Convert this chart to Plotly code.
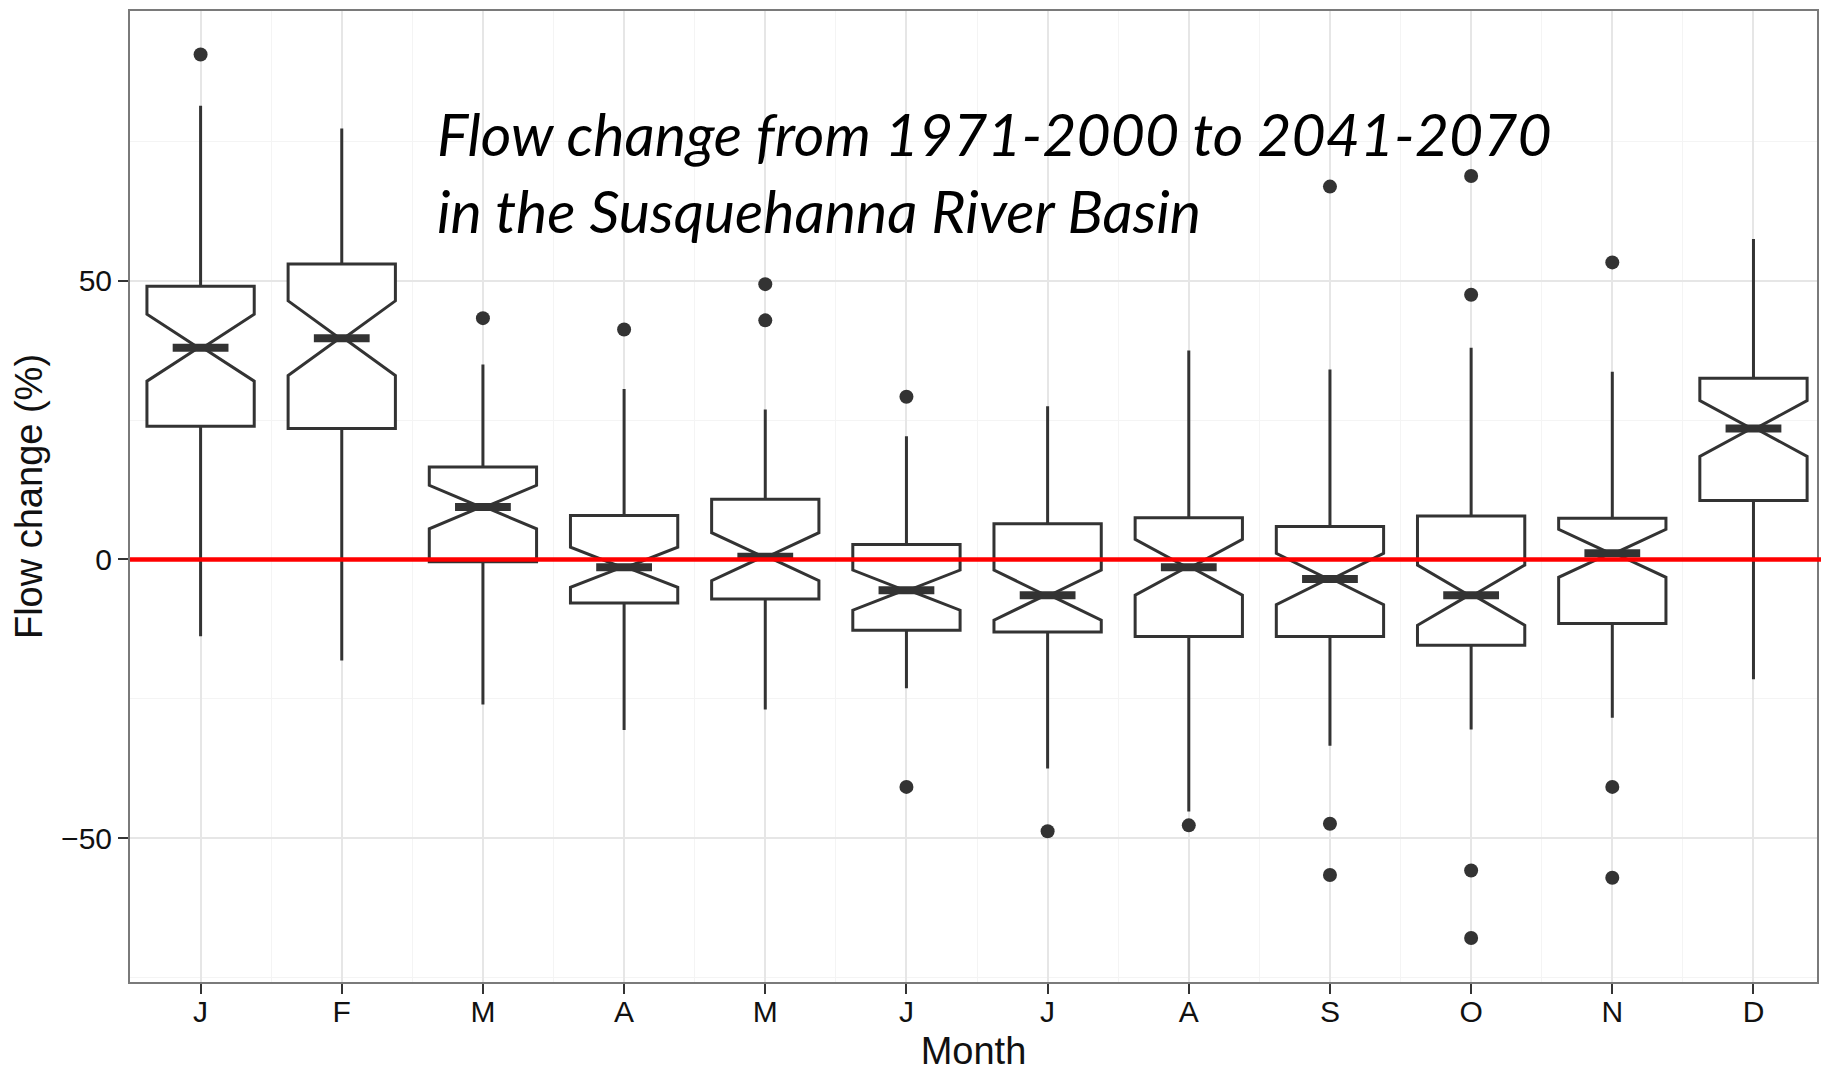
import plotly.graph_objects as go

# monthly flow change stats
months = ['J', 'F', 'M', 'A', 'M', 'J', 'J', 'A', 'S', 'O', 'N', 'D']
q1 = [23.9, 23.5, -0.4, -7.8, -7.1, -12.7, -13.0, -13.8, -13.8, -15.4, -11.5, 10.6]
median = [38.0, 39.7, 9.4, -1.4, 0.5, -5.5, -6.4, -1.4, -3.5, -6.4, 1.1, 23.5]
q3 = [49.0, 53.0, 16.6, 7.9, 10.8, 2.7, 6.4, 7.5, 5.9, 7.8, 7.4, 32.5]
notch = [6.0, 6.7, 3.9, 3.6, 4.3, 3.6, 4.5, 5.0, 4.6, 5.4, 4.3, 5.0]
lower = [-13.75, -18.1, -26.0, -30.6, -26.9, -23.1, -37.5, -45.2, -33.4, -30.5, -28.4, -21.5]
upper = [81.4, 77.3, 35.0, 30.6, 26.9, 22.1, 27.5, 37.5, 34.1, 38.0, 33.7, 57.5]
outliers = [[90.6], [], [43.3], [41.25], [49.4, 42.9], [29.2, -40.8], [-48.75],
            [-47.7], [66.9, -47.4, -56.6], [68.8, 47.5, -55.8, -67.9],
            [53.3, -40.8, -57.1], []]

title_lines = ['Flow change from 1971-2000 to 2041-2070', 'in the Susquehanna River Basin']

pos = list(range(len(months)))
box_w = 0.76
notch_w = 0.48
dark = '#333333'

fig = go.Figure()
fig.add_trace(go.Box(
    x=pos, q1=q1, median=median, q3=q3,
    lowerfence=lower, upperfence=upper, notchspan=notch,
    notched=True, notchwidth=notch_w, width=box_w,
    fillcolor='white', line=dict(color=dark, width=3),
    whiskerwidth=0, boxpoints=False, showlegend=False,
))

# thick median bars like ggplot
half = box_w / 2 * (1 - notch_w)
mx, my = [], []
for i, m in zip(pos, median):
    mx += [i - half, i + half, None]
    my += [m, m, None]
fig.add_trace(go.Scatter(x=mx, y=my, mode='lines',
                         line=dict(color=dark, width=8), showlegend=False))

ox, oy = [], []
for i, vals in zip(pos, outliers):
    for v in vals:
        ox.append(i)
        oy.append(v)
fig.add_trace(go.Scatter(x=ox, y=oy, mode='markers',
                         marker=dict(color=dark, size=14), showlegend=False))

fig.add_shape(type='line', xref='paper', yref='y', x0=0, x1=1.003, y0=0, y1=0,
              line=dict(color='#ff0000', width=4.5), layer='above')

fig.add_annotation(text='<br>'.join(title_lines), xref='paper', yref='paper',
                   x=0.181, y=0.912, xanchor='left', yanchor='top', align='left',
                   showarrow=False,
                   font=dict(family='Lato', size=59, color='black', style='italic'))

axis_font = dict(family='Liberation Sans', size=30, color='#111111')
title_font = dict(family='Liberation Sans', size=38, color='#111111')
fig.update_xaxes(
    range=[-0.5, 11.45], tickvals=pos, ticktext=months,
    tickfont=axis_font, ticks='outside', ticklen=10, tickwidth=2, tickcolor=dark,
    ticklabelstandoff=-8,
    showgrid=True, gridcolor='#e6e6e6', gridwidth=1.5,
    minor=dict(tickvals=[p + 0.5 for p in pos[:-1]], showgrid=True,
               gridcolor='#f4f4f4', gridwidth=1, ticks=''),
    showline=True, mirror=True, linecolor='#7a7a7a', linewidth=2,
    zeroline=False,
    title=dict(text='Month', font=title_font, standoff=16),
)
fig.update_yaxes(
    range=[-75.8, 98.4], tickvals=[-50, 0, 50], ticktext=['\u221250', '0', '50'],
    tickfont=axis_font, ticks='outside', ticklen=10, tickwidth=2, tickcolor=dark,
    showgrid=True, gridcolor='#e6e6e6', gridwidth=1.5,
    minor=dict(tickvals=[-75, -25, 25, 75], showgrid=True,
               gridcolor='#f4f4f4', gridwidth=1, ticks=''),
    showline=True, mirror=True, linecolor='#7a7a7a', linewidth=2,
    zeroline=False,
    title=dict(text='Flow change (%)', font=title_font, standoff=8),
)
# page body adds 8px, so keep the figure a bit smaller than the window
fig.update_layout(
    width=1821, height=1064,
    margin=dict(l=122, r=12, t=1, b=89),
    plot_bgcolor='white', paper_bgcolor='white',
)

fig.write_html('out.html')
